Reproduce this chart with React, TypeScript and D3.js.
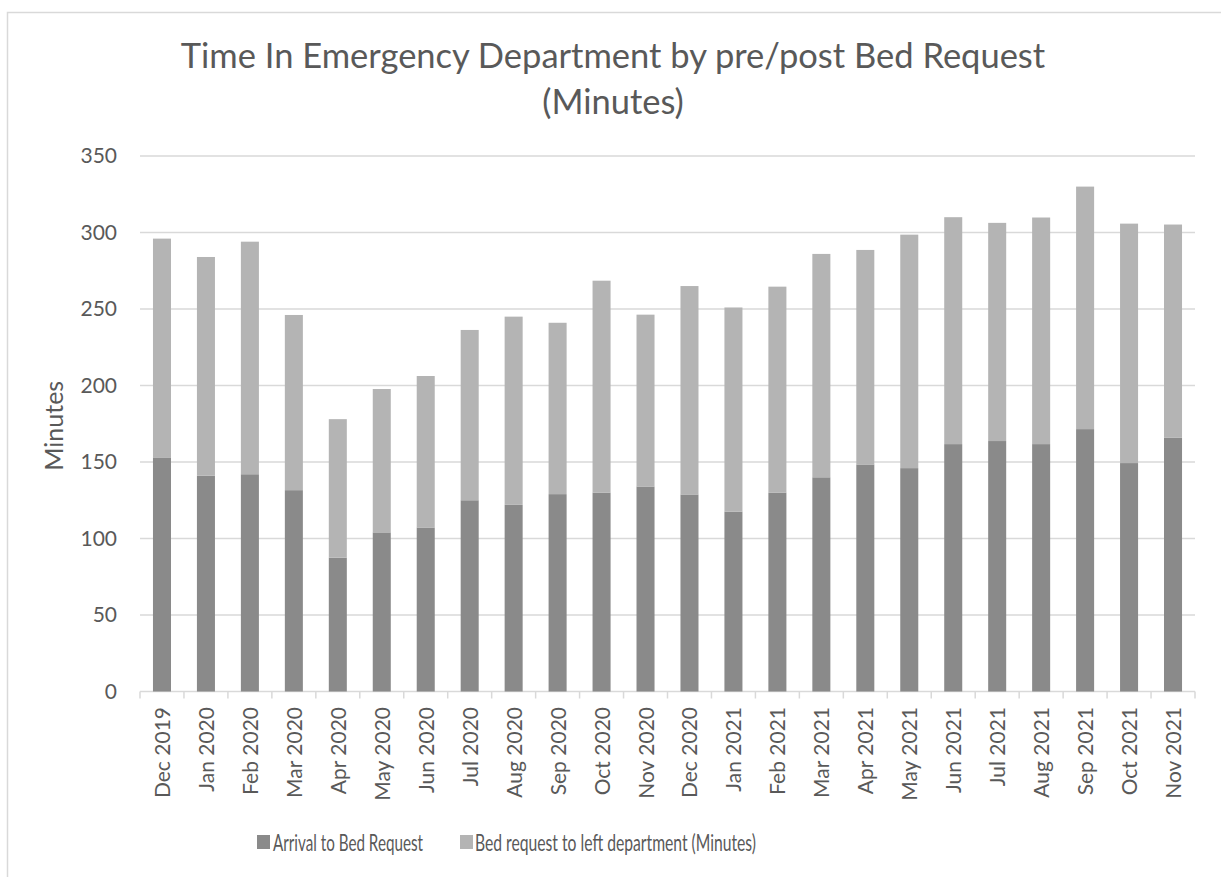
import * as d3 from 'd3'

const months = [
  'Dec 2019', 'Jan 2020', 'Feb 2020', 'Mar 2020', 'Apr 2020', 'May 2020',
  'Jun 2020', 'Jul 2020', 'Aug 2020', 'Sep 2020', 'Oct 2020', 'Nov 2020',
  'Dec 2020', 'Jan 2021', 'Feb 2021', 'Mar 2021', 'Apr 2021', 'May 2021',
  'Jun 2021', 'Jul 2021', 'Aug 2021', 'Sep 2021', 'Oct 2021', 'Nov 2021',
]

// Arrival to Bed Request
const arrivalToRequest = [
  153, 141, 142, 131.6, 87.5, 104, 107.2, 125, 122, 129, 130, 134,
  128.8, 117.6, 130, 140, 148.4, 146, 161.7, 163.7, 161.7, 171.5, 149.3, 166,
]

// Bed request to left department (Minutes)
const requestToLeft = [
  143, 143, 152, 114.5, 90.5, 93.7, 99, 111.3, 123, 112, 138.5, 112.3,
  136.2, 133.4, 134.6, 146, 140.2, 152.6, 148.3, 142.6, 148.1, 158.5, 156.5, 139.2,
]

const yTicks = [0, 50, 100, 150, 200, 250, 300, 350]

const seriesNames = ['Arrival to Bed Request', 'Bed request to left department (Minutes)']
const seriesColors = ['#8a8a8a', '#b4b4b4']

const W = 1221
const H = 877
const plot = { left: 140, right: 1195, top: 156, bottom: 691.5 }
const font = 'Lato, "Open Sans", sans-serif'
const textColor = '#595959'

// legend entries are squeezed a bit, like the original
const legend = [
  { sx: 257, tx: 273, len: 150 },
  { sx: 460, tx: 475, len: 281 },
]

export default function App() {
  const x = d3
    .scaleBand<string>()
    .domain(months)
    .range([plot.left, plot.right])
    .paddingInner(0.59)
    .paddingOuter(0.295)

  const y = d3.scaleLinear().domain([0, 350]).range([plot.bottom, plot.top])

  const rows = months.map((m, i) => ({
    month: m,
    arrival: arrivalToRequest[i],
    after: requestToLeft[i],
  }))
  const stacked = d3.stack<any>().keys(['arrival', 'after'])(rows)

  const step = x.step()

  return (
    <svg
      width={W}
      height={H}
      style={{ position: 'absolute', left: 0, top: 0, background: '#fff' }}
      fontFamily={font}
    >
      <rect x={7.5} y={12.5} width={1300} height={1000} fill="#fff" stroke="#d9d9d9" strokeWidth={1.5} />

      <text x={613} y={68} textAnchor="middle" fontSize={34.5} fill={textColor}>
        Time In Emergency Department by pre/post Bed Request
      </text>
      <text x={613} y={114} textAnchor="middle" fontSize={34.5} fill={textColor}>
        (Minutes)
      </text>

      {/* gridlines */}
      {yTicks.map(t => (
        <g key={t}>
          <line
            x1={plot.left}
            x2={plot.right}
            y1={y(t)}
            y2={y(t)}
            stroke="#d9d9d9"
            strokeWidth={1.5}
          />
          <text
            x={117}
            y={y(t)}
            dy="0.35em"
            textAnchor="end"
            fontSize={21}
            fill={textColor}
          >
            {t}
          </text>
        </g>
      ))}

      <text
        transform={`translate(63, ${(plot.top + plot.bottom) / 2 + 2}) rotate(-90)`}
        textAnchor="middle"
        fontSize={25}
        fill={textColor}
      >
        Minutes
      </text>

      {/* bars */}
      {stacked.map((layer, li) => (
        <g key={li} fill={seriesColors[li]}>
          {layer.map((d, i) => (
            <rect
              key={i}
              x={x(months[i])}
              width={x.bandwidth()}
              y={y(d[1])}
              height={y(d[0]) - y(d[1])}
            />
          ))}
        </g>
      ))}

      {/* category ticks */}
      {d3.range(months.length + 1).map(i => (
        <line
          key={i}
          x1={plot.left + i * step}
          x2={plot.left + i * step}
          y1={plot.bottom}
          y2={plot.bottom + 7}
          stroke="#d9d9d9"
          strokeWidth={1.5}
        />
      ))}

      {months.map(m => (
        <text
          key={m}
          transform={`translate(${(x(m) ?? 0) + x.bandwidth() / 2 + 8}, 707) rotate(-90)`}
          textAnchor="end"
          fontSize={21}
          fill={textColor}
        >
          {m}
        </text>
      ))}

      {/* legend */}
      {legend.map((l, i) => (
        <g key={i}>
          <rect x={l.sx} y={835} width={13} height={14} fill={seriesColors[i]} />
          <text
            x={l.tx}
            y={851}
            fontSize={22.5}
            fill={textColor}
            textLength={l.len}
            lengthAdjust="spacingAndGlyphs"
          >
            {seriesNames[i]}
          </text>
        </g>
      ))}
    </svg>
  )
}
